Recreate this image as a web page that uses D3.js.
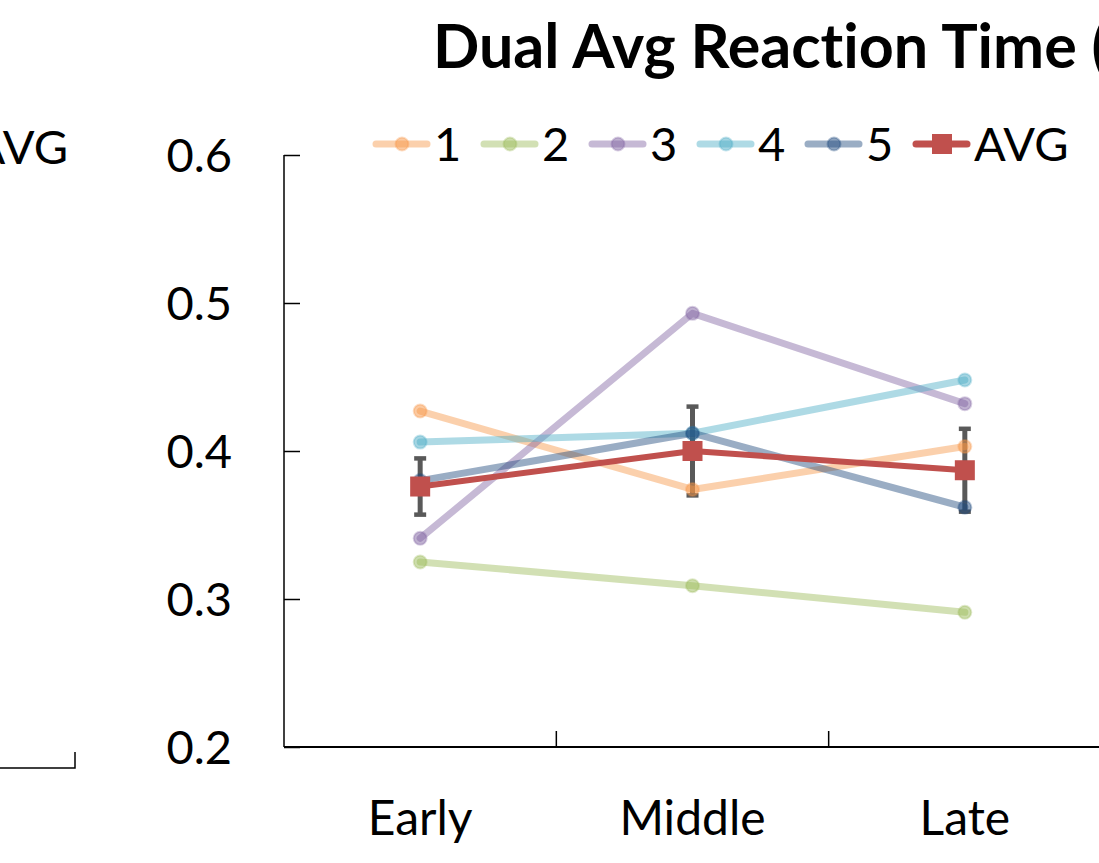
<!DOCTYPE html>
<html>
<head>
<meta charset="utf-8">
<script src="https://cdn.jsdelivr.net/npm/d3@7"></script>
<style>
  body { margin: 0; background: #fff; }
  svg { display: block; font-family: Lato, "Open Sans", sans-serif; font-variant-ligatures: none; }
</style>
</head>
<body>
<svg id="chart" width="1099" height="863"></svg>
<script>
// Phases along the x axis
const phases = ["Early", "Middle", "Late"];
// Per-subject dual-task reaction times (s)
const subjects = ["1", "2", "3", "4", "5"];
const subject1 = [0.427, 0.374, 0.403];
const subject2 = [0.325, 0.309, 0.291];
const subject3 = [0.341, 0.493, 0.432];
const subject4 = [0.406, 0.412, 0.448];
const subject5 = [0.380, 0.412, 0.362];
// Group mean and standard error
const avgLabel = "AVG";
const avgValues = [0.376, 0.400, 0.387];
const avgError = [0.019, 0.030, 0.028];
// Axis ticks
const yTicks = [0.2, 0.3, 0.4, 0.5, 0.6];
const subjectColors = ["#F79646", "#9BBB59", "#8064A2", "#4BACC6", "#1F497D"];
const avgColor = "#C0504D";
const errColor = "#595959";

const seriesValues = [subject1, subject2, subject3, subject4, subject5];

const svg = d3.select("#chart");

const plot = { left: 284, right: 1101, top: 155, bottom: 747 };
const fontSize = 47;

const x = d3.scaleBand().domain(phases).range([plot.left, plot.right]).paddingInner(0).paddingOuter(0);
const y = d3.scaleLinear().domain([0.2, 0.6]).range([plot.bottom, plot.top]);
const cx = p => x(p) + x.bandwidth() / 2;

// Remnants of the neighbouring panel on the left
svg.append("text").attr("x", 68).attr("y", 148).attr("text-anchor", "end")
  .attr("dy", "0.35em").attr("font-size", fontSize).attr("fill", "#000").text(avgLabel);
svg.append("path").attr("d", "M0,768H75V752").attr("fill", "none").attr("stroke", "#000").attr("stroke-width", 1.5);

// Title
svg.append("text").attr("x", 433).attr("y", 68).attr("font-size", 61).attr("font-weight", 700)
  .attr("fill", "#000").text("Dual Avg Reaction Time (s)");

// Y axis with inward ticks
const yAxis = d3.axisRight(y).tickValues(yTicks).tickSize(16).tickFormat(d3.format(".1f"));
const gy = svg.append("g").attr("transform", `translate(${plot.left},0)`).call(yAxis);
gy.select(".domain").attr("stroke", "#000").attr("stroke-width", 1.5).attr("d", `M0,${plot.top}V${plot.bottom}`);
gy.selectAll(".tick line").attr("stroke", "#000").attr("stroke-width", 1.5);
gy.selectAll(".tick text").attr("x", -52).attr("text-anchor", "end").attr("dy", "0.36em")
  .attr("font-size", fontSize).attr("fill", "#000").attr("font-family", "Lato, sans-serif");

// X axis with category labels and boundary ticks
const gx = svg.append("g");
gx.append("line").attr("x1", plot.left).attr("x2", 1099).attr("y1", plot.bottom).attr("y2", plot.bottom)
  .attr("stroke", "#000").attr("stroke-width", 2);
gx.selectAll("line.bound").data(phases.slice(1)).join("line").attr("class", "bound")
  .attr("x1", d => x(d)).attr("x2", d => x(d)).attr("y1", plot.bottom).attr("y2", plot.bottom - 16)
  .attr("stroke", "#000").attr("stroke-width", 1.5);
gx.selectAll("text").data(phases).join("text")
  .attr("x", d => cx(d)).attr("y", 835).attr("text-anchor", "middle")
  .attr("font-size", fontSize + 1).attr("fill", "#000").text(d => d);

// Error bars of the mean
const eb = svg.append("g");
phases.forEach((p, i) => {
  const top = y(avgValues[i] + avgError[i]), bot = y(avgValues[i] - avgError[i]);
  eb.append("line").attr("x1", cx(p)).attr("x2", cx(p)).attr("y1", top).attr("y2", bot)
    .attr("stroke", errColor).attr("stroke-width", 5);
  [top, bot].forEach(v => eb.append("line").attr("x1", cx(p) - 6).attr("x2", cx(p) + 6)
    .attr("y1", v).attr("y2", v).attr("stroke", errColor).attr("stroke-width", 4.5));
});

// Subject lines
const line = d3.line().x((d, i) => cx(phases[i])).y(d => y(d));
seriesValues.forEach((vals, k) => {
  const g = svg.append("g");
  g.append("path").datum(vals).attr("d", line).attr("fill", "none")
    .attr("stroke", subjectColors[k]).attr("stroke-opacity", 0.45)
    .attr("stroke-width", 7).attr("stroke-linejoin", "round").attr("stroke-linecap", "round");
  g.selectAll("circle").data(vals).join("circle")
    .attr("cx", (d, i) => cx(phases[i])).attr("cy", d => y(d)).attr("r", 6.5)
    .attr("fill", subjectColors[k]).attr("fill-opacity", 0.5)
    .attr("stroke", subjectColors[k]).attr("stroke-opacity", 0.3).attr("stroke-width", 2);
});

// Mean line with square markers
svg.append("path").datum(avgValues).attr("d", line).attr("fill", "none")
  .attr("stroke", avgColor).attr("stroke-width", 6).attr("stroke-linejoin", "round");
svg.append("g").selectAll("rect").data(avgValues).join("rect")
  .attr("x", (d, i) => cx(phases[i]) - 10).attr("y", d => y(d) - 10)
  .attr("width", 20).attr("height", 20).attr("fill", avgColor);

// Legend
const leg = svg.append("g").attr("transform", "translate(372,144)");
const legendItems = subjects.map((s, k) => ({ label: s, color: subjectColors[k], avg: false }))
  .concat([{ label: avgLabel, color: avgColor, avg: true }]);
legendItems.forEach((it, k) => {
  const g = leg.append("g").attr("transform", `translate(${k * 108},0)`);
  g.append("line").attr("x1", 4).attr("x2", 55).attr("y1", 0).attr("y2", 0)
    .attr("stroke", it.color).attr("stroke-opacity", it.avg ? 1 : 0.45)
    .attr("stroke-width", 7).attr("stroke-linecap", "round");
  if (it.avg) {
    g.append("rect").attr("x", 20).attr("y", -10).attr("width", 20).attr("height", 20).attr("fill", it.color);
  } else {
    g.append("circle").attr("cx", 30).attr("cy", 0).attr("r", 6.5)
      .attr("fill", it.color).attr("fill-opacity", 0.5)
      .attr("stroke", it.color).attr("stroke-opacity", 0.3).attr("stroke-width", 2);
  }
  g.append("text").attr("x", 62).attr("y", 0).attr("dy", "0.36em").attr("font-size", fontSize)
    .attr("fill", "#000").text(it.label);
});
</script>
</body>
</html>
